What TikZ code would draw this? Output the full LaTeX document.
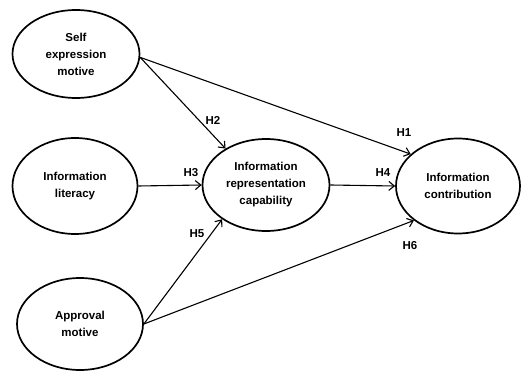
\documentclass[tikz,border=0pt]{standalone}
\usepackage{fontspec}
\setmainfont{Liberation Sans}
\usetikzlibrary{shapes.geometric,arrows.meta}
\begin{document}
\begin{tikzpicture}[x=1pt,y=-1pt,
  construct/.style={draw,ellipse,line width=1.7pt,inner sep=0pt,align=center,
    font=\fontsize{11.5}{17}\selectfont\bfseries},
  path/.style={line width=1.1pt,-{Straight Barb[length=5.5pt,width=9pt,line width=1.1pt]}},
  hlabel/.style={font=\fontsize{11.5}{13}\selectfont\bfseries}]
\useasboundingbox (0,0) rectangle (522,374);
\node[construct,minimum width=127pt,minimum height=88pt] (self) at (76,54) {Self\\expression\\motive};
\node[construct,minimum width=125pt,minimum height=96pt] (lit) at (75,186) {Information\\literacy};
\node[construct,minimum width=126pt,minimum height=92pt] (app) at (80,324) {Approval\\motive};
\node[construct,minimum width=127pt,minimum height=92pt] (irc) at (266,185) {Information\\representation\\capability};
\node[construct,minimum width=124pt,minimum height=95pt] (icon) at (458,186) {Information\\contribution};
\draw[path] (self.-3) -- (icon.146);
\draw[path] (self.-3) -- (irc.138);
\draw[path] (lit.east) -- (irc.west);
\draw[path] (app.east) -- (irc.218);
\draw[path] (app.east) -- (icon.218);
\draw[path] (irc.east) -- (icon.west);
\node[hlabel] (h1) at (404,133) {H1};
\node[hlabel] (h2) at (213,120) {H2};
\node[hlabel] (h3) at (191,173) {H3};
\node[hlabel] (h4) at (383,173) {H4};
\node[hlabel] (h5) at (197,234) {H5};
\node[hlabel] (h6) at (410,246) {H6};
\end{tikzpicture}
\end{document}
